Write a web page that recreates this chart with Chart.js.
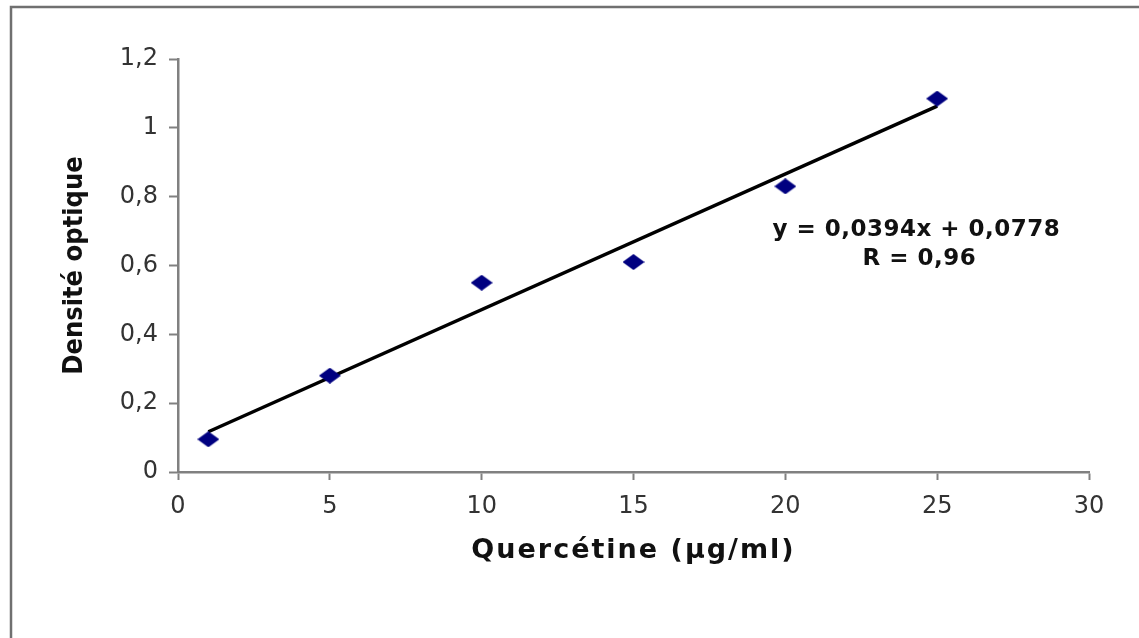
<!DOCTYPE html>
<html>
<head>
<meta charset="utf-8">
<script src="https://cdn.jsdelivr.net/npm/chart.js@4.4.1/dist/chart.umd.min.js"></script>
<style>
  html, body { margin: 0; padding: 0; background: #ffffff; }
  #wrap { position: relative; width: 1139px; height: 638px; }
  canvas { display: block; }
</style>
</head>
<body>
<div id="wrap"><canvas id="c" width="1139" height="638"></canvas></div>
<script>
// ---- data ----
const concentrations = [1, 5, 10, 15, 20, 25];                // Quercétine (µg/ml)
const densities      = [0.095, 0.28, 0.55, 0.61, 0.83, 1.085]; // Densité optique
const trendX = [1, 25];
const trendY = [0.117, 1.063];
const xTickValues = [0, 5, 10, 15, 20, 25, 30];
const yTickLabels = ['0', '0,2', '0,4', '0,6', '0,8', '1', '1,2'];
const equationLines = ['y = 0,0394x + 0,0778', 'R = 0,96'];
const xTitle = 'Quercétine (µg/ml)';
const yTitle = 'Densité optique';

// flat diamond marker
function makeDiamond(w, h, color) {
  const cv = document.createElement('canvas');
  cv.width = w; cv.height = h;
  const g = cv.getContext('2d');
  g.fillStyle = color;
  g.beginPath();
  g.moveTo(w / 2, 0);
  g.lineTo(w, h / 2);
  g.lineTo(w / 2, h);
  g.lineTo(0, h / 2);
  g.closePath();
  g.fill();
  return cv;
}
const diamond = makeDiamond(22, 16, '#000080');

const scatterData = concentrations.map((x, i) => ({ x: x, y: densities[i] }));
const trendData = trendX.map((x, i) => ({ x: x, y: trendY[i] }));

const framePlugin = {
  id: 'frame',
  beforeDraw(chart) {
    const ctx = chart.ctx;
    ctx.save();
    ctx.fillStyle = '#ffffff';
    ctx.fillRect(0, 0, chart.width, chart.height);
    ctx.strokeStyle = '#707070';
    ctx.lineWidth = 2.5;
    ctx.beginPath();
    ctx.moveTo(11, chart.height + 5);
    ctx.lineTo(11, 7);
    ctx.lineTo(chart.width + 5, 7);
    ctx.stroke();
    ctx.restore();
  },
  afterLayout(chart) {
    const xs = chart.scales.x;
    if (xs && !xs._spaced) {
      const orig = xs.drawTitle;
      xs.drawTitle = function () {
        this.ctx.save();
        this.ctx.letterSpacing = '2px';
        orig.apply(this, arguments);
        this.ctx.restore();
      };
      xs._spaced = true;
    }
  },
  afterDatasetsDraw(chart) {
    const ctx = chart.ctx;
    const a = chart.chartArea;
    ctx.save();
    ctx.font = 'bold 23px "DejaVu Sans"';
    ctx.letterSpacing = '0.5px';
    ctx.fillStyle = '#111111';
    ctx.textAlign = 'center';
    ctx.textBaseline = 'middle';
    const cx = a.left + (a.right - a.left) * 0.8105;
    ctx.fillText(equationLines[0], cx, a.top + 171);
    ctx.fillText(equationLines[1], cx + 3, a.top + 200);
    ctx.restore();
  }
};

new Chart(document.getElementById('c'), {
  type: 'scatter',
  data: {
    datasets: [
      {
        label: 'Densité optique',
        data: scatterData,
        pointStyle: diamond,
        pointRadius: 8,
        pointHoverRadius: 8,
        backgroundColor: '#000080',
        borderColor: '#000080',
        order: 1
      },
      {
        type: 'line',
        label: 'Tendance',
        data: trendData,
        showLine: true,
        borderColor: '#000000',
        borderWidth: 3.5,
        pointRadius: 0,
        fill: false,
        order: 2
      }
    ]
  },
  plugins: [framePlugin],
  options: {
    responsive: false,
    animation: false,
    events: [],
    layout: { padding: { left: 0, top: 59, right: 50, bottom: 0 } },
    plugins: {
      legend: { display: false },
      tooltip: { enabled: false }
    },
    scales: {
      x: {
        type: 'linear',
        min: 0,
        max: 30,
        afterFit(scale) { scale.height = 166; },
        afterBuildTicks(scale) { scale.ticks = xTickValues.map(v => ({ value: v })); },
        grid: {
          drawOnChartArea: false,
          drawTicks: true,
          tickLength: 8,
          tickWidth: 2,
          tickColor: '#808080'
        },
        border: { display: true, color: '#808080', width: 2.5 },
        ticks: {
          padding: 12,
          color: '#333333',
          font: { family: '"DejaVu Sans"', size: 24 },
          maxRotation: 0,
          callback: (v) => String(v)
        },
        title: {
          display: true,
          text: xTitle,
          color: '#111111',
          font: { family: '"DejaVu Sans"', size: 27, weight: 'bold' },
          padding: { top: 0, bottom: 71 }
        }
      },
      y: {
        type: 'linear',
        min: 0,
        max: 1.2,
        afterFit(scale) { scale.width = 178; },
        afterBuildTicks(scale) {
          scale.ticks = yTickLabels.map((t, i) => ({ value: Math.round(i * 2) / 10 }));
        },
        grid: {
          drawOnChartArea: false,
          drawTicks: true,
          tickLength: 9,
          tickWidth: 2,
          tickColor: '#808080'
        },
        border: { display: true, color: '#808080', width: 2.5 },
        ticks: {
          padding: 11,
          color: '#333333',
          font: { family: '"DejaVu Sans"', size: 24 },
          callback: (v, i) => yTickLabels[i]
        },
        title: {
          display: true,
          text: yTitle,
          color: '#111111',
          font: { family: '"DejaVu Sans Condensed", "DejaVu Sans"', size: 27, weight: 'bold' },
          padding: { top: 59, bottom: 0 }
        }
      }
    }
  }
});
</script>
</body>
</html>
